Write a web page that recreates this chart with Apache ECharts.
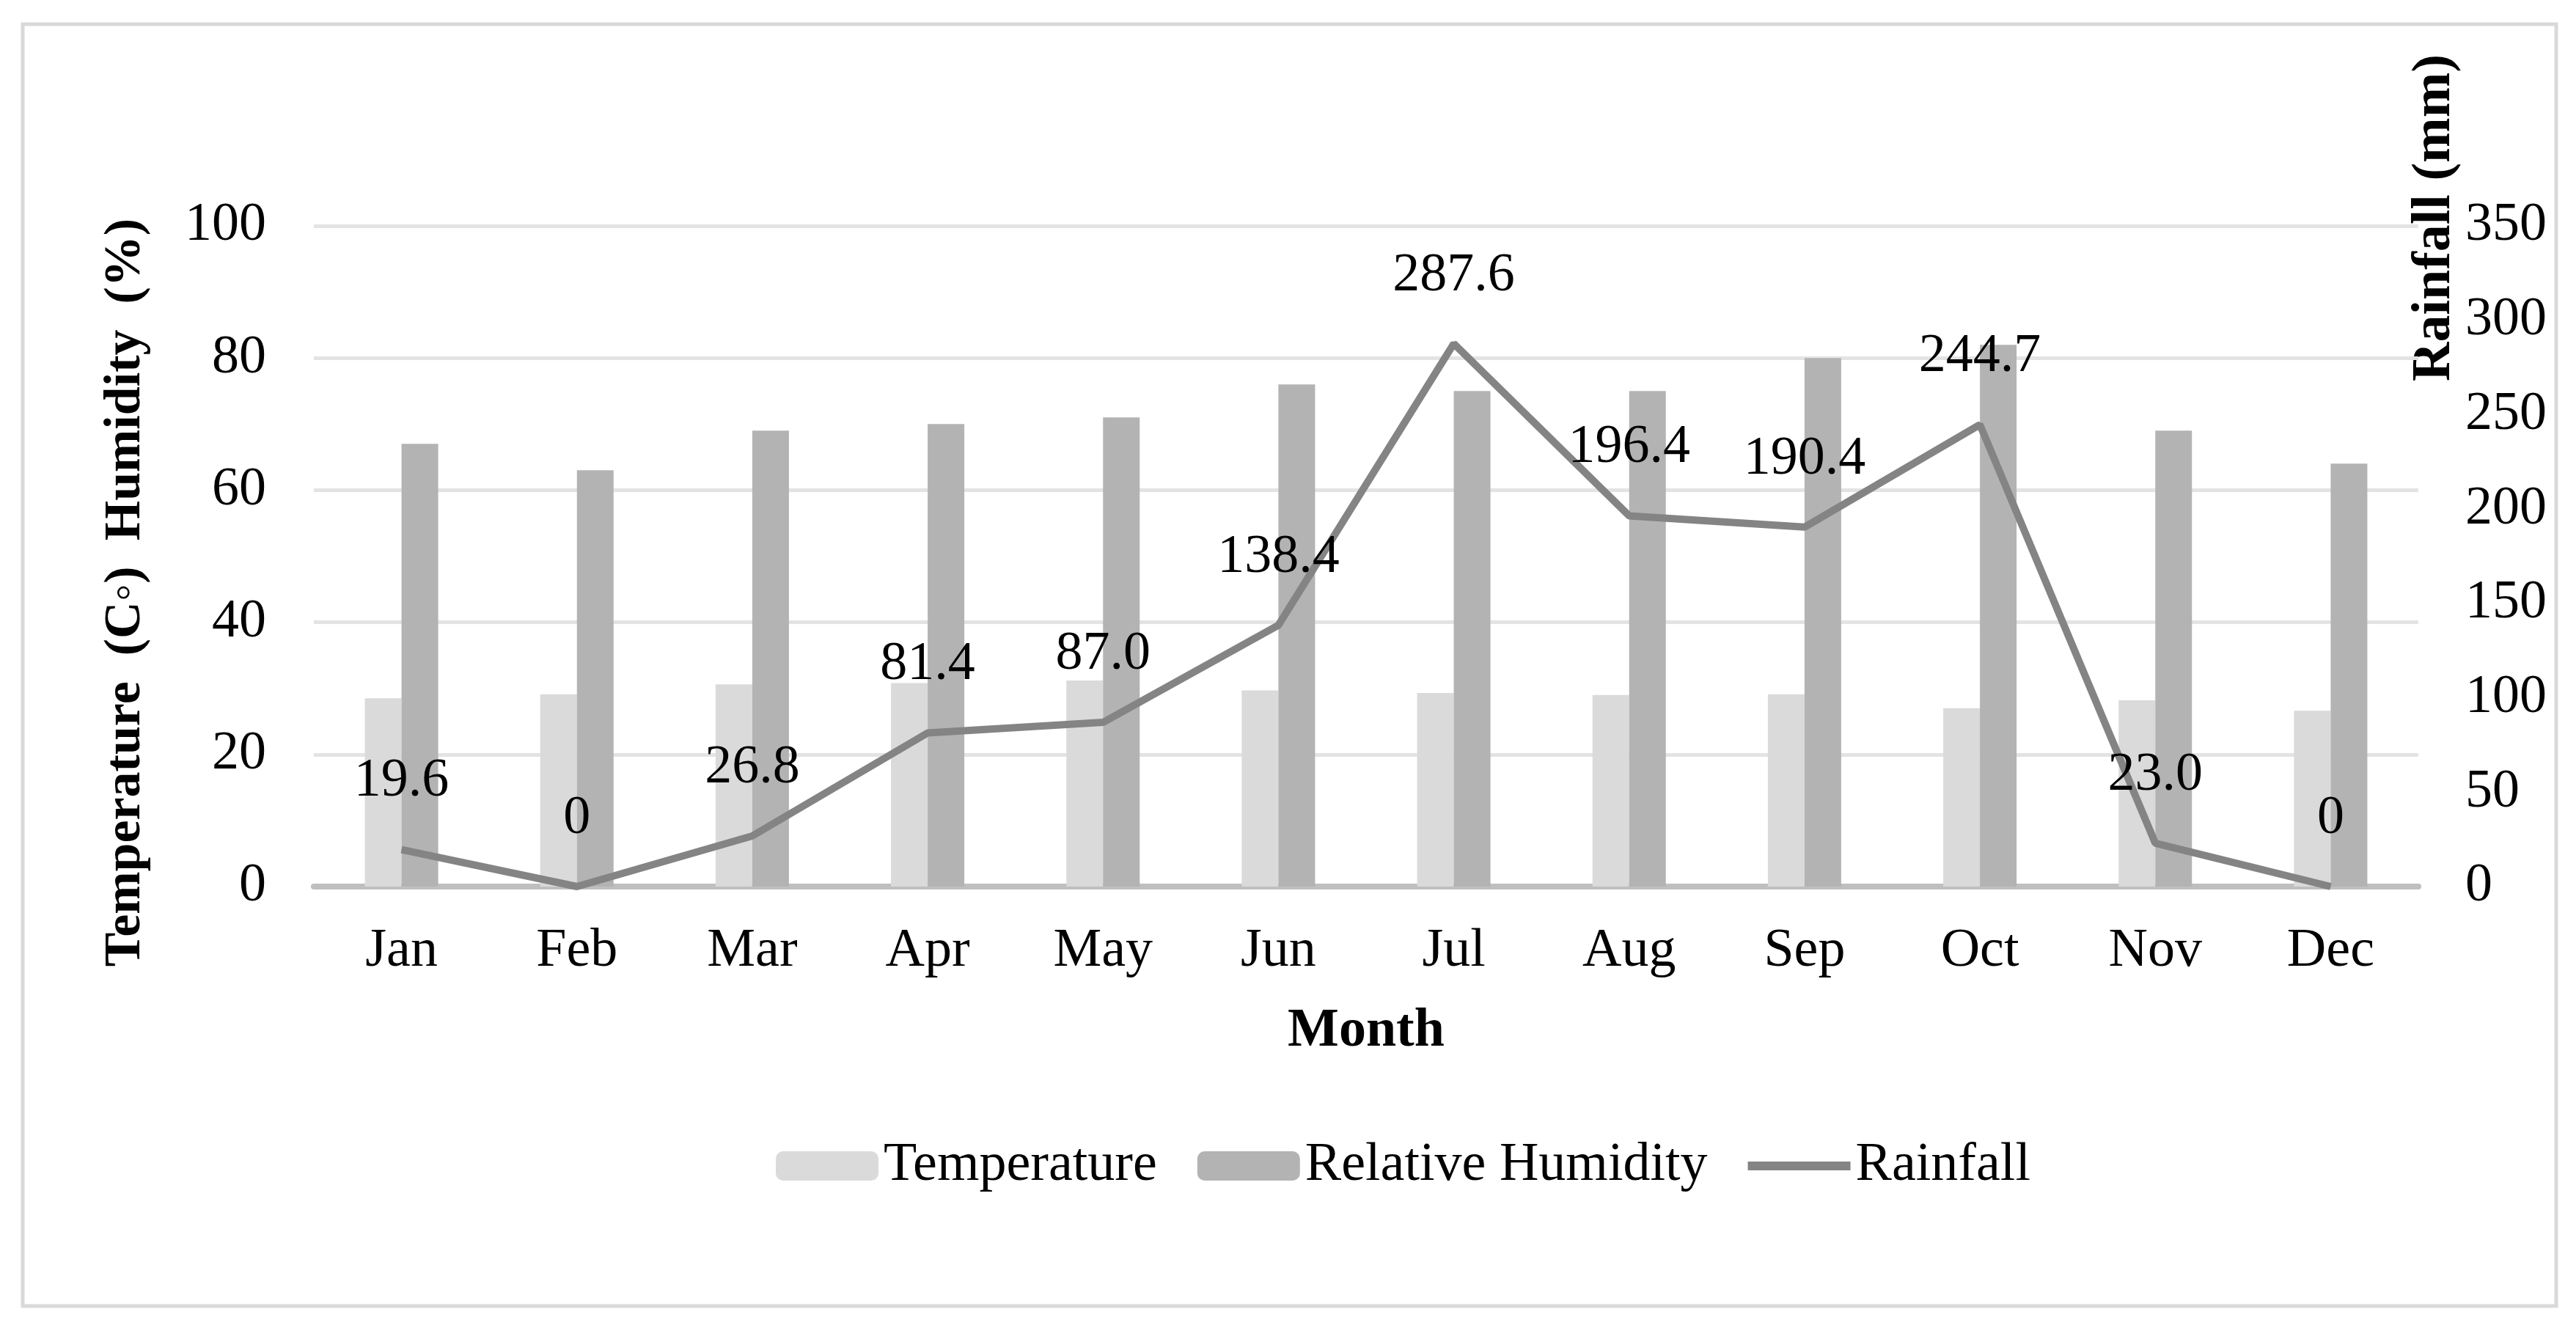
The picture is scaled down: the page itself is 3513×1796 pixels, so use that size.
<!DOCTYPE html>
<html>
<head>
<meta charset="utf-8">
<script src="https://cdn.jsdelivr.net/npm/echarts@6/dist/echarts.min.js"></script>
<style>
html,body{margin:0;padding:0;background:#fff;}
#chart{width:3513px;height:1796px;}
</style>
</head>
<body>
<div id="chart"></div>
<script>
var months = ['Jan','Feb','Mar','Apr','May','Jun','Jul','Aug','Sep','Oct','Nov','Dec'];
var temperature = [28.5, 29.1, 30.6, 30.8, 31.2, 29.7, 29.3, 29.0, 29.1, 27.0, 28.2, 26.6];
var humidity = [67, 63, 69, 70, 71, 76, 75, 75, 80, 82, 69, 64];
var rainfall = [19.6, 0, 26.8, 81.4, 87.0, 138.4, 287.6, 196.4, 190.4, 244.7, 23.0, 0];

var FONT = "'Liberation Serif', 'Times New Roman', serif";
var FS = 74;
var chart = echarts.init(document.getElementById('chart'));
chart.setOption({
  backgroundColor: '#ffffff',
  animation: false,
  textStyle: { fontFamily: FONT, color: '#000' },
  grid: { left: 428, right: 215, top: 308, bottom: 587, containLabel: false },
  graphic: [
    { type: 'rect', shape: { x: 31, y: 33, width: 3455, height: 1748 },
      style: { fill: 'none', stroke: '#d9d9d9', lineWidth: 5 }, z: -1 },
    { type: 'text', x: 172, y: 808, rotation: Math.PI / 2,
      style: { text: 'Temperature  (C\u25E6)  Humidity  (%)', font: 'bold 70px ' + FONT,
        fill: '#000', textAlign: 'center', textVerticalAlign: 'middle' } },
    { type: 'text', x: 3321, y: 297, rotation: Math.PI / 2,
      style: { text: 'Rainfall (mm)', font: 'bold 74px ' + FONT,
        fill: '#000', textAlign: 'center', textVerticalAlign: 'middle' } }
  ],
  legend: {
    left: 1053, top: 1548,
    itemWidth: 140, itemHeight: 40, itemGap: 55,
    textStyle: { fontFamily: FONT, fontSize: FS, color: '#000', padding: [0, 0, 0, 2] },
    data: [
      { name: 'Temperature' },
      { name: 'Relative Humidity' },
      { name: 'Rainfall', icon: 'path://M0,0H150V13H0Z' }
    ]
  },
  xAxis: {
    type: 'category', data: months,
    name: 'Month', nameLocation: 'middle', nameGap: 161,
    nameTextStyle: { fontFamily: FONT, fontSize: FS, fontWeight: 'bold', color: '#000' },
    axisLine: { lineStyle: { color: '#bfbfbf', width: 8 } },
    axisTick: { show: false },
    axisLabel: { fontFamily: FONT, fontSize: FS, color: '#000', margin: 52 }
  },
  yAxis: [
    {
      type: 'value', min: 0, max: 100, interval: 20,
      axisLine: { show: false }, axisTick: { show: false },
      axisLabel: { fontFamily: FONT, fontSize: FS, color: '#000', margin: 65 },
      splitLine: { lineStyle: { color: '#e3e3e3', width: 5 } }
    },
    {
      type: 'value', min: 0, max: 350, interval: 50, position: 'right',
      axisLine: { show: false }, axisTick: { show: false },
      axisLabel: { fontFamily: FONT, fontSize: FS, color: '#000', margin: 64 },
      splitLine: { show: false }
    }
  ],
  series: [
    {
      name: 'Temperature', type: 'bar', data: temperature, yAxisIndex: 0,
      barWidth: 50, barGap: '0%',
      itemStyle: { color: '#dadada' }
    },
    {
      name: 'Relative Humidity', type: 'bar', data: humidity, yAxisIndex: 0,
      barWidth: 50, barGap: '0%',
      itemStyle: { color: '#b3b3b3' }
    },
    {
      name: 'Rainfall', type: 'line', data: rainfall, yAxisIndex: 1,
      symbol: 'circle', symbolSize: 1, showSymbol: true, z: 5,
      lineStyle: { color: '#848484', width: 10 },
      itemStyle: { color: '#848484' },
      label: {
        show: true, position: 'top', distance: 55,
        fontFamily: FONT, fontSize: FS, color: '#000',
        formatter: function (p) { return p.value === 0 ? '0' : p.value.toFixed(1); }
      }
    }
  ]
});
</script>
</body>
</html>
